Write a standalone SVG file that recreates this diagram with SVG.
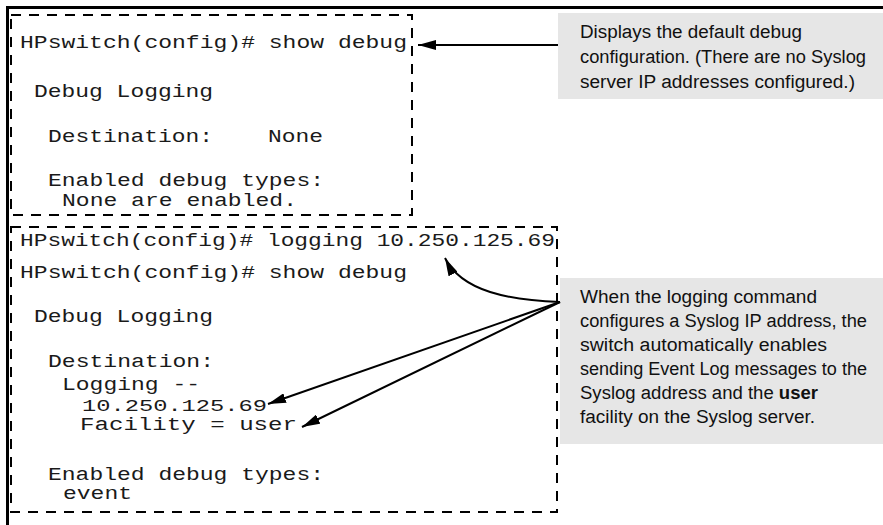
<svg xmlns="http://www.w3.org/2000/svg" width="883" height="525" viewBox="0 0 883 525">
  <style>
    .frame { fill: none; stroke: #000; stroke-width: 3; }
    .dash { fill: none; stroke: #000; stroke-width: 2; stroke-dasharray: 10 8; }
    .term { font-family: "Liberation Mono", "DejaVu Sans Mono", monospace; font-size: 19px; fill: #1a1a1a; }
    .small { font-size: 17px; }
    .note { fill: #e6e6e6; }
    .ntext { font-family: "Liberation Sans", Arial, sans-serif; font-size: 18px; fill: #111; }
    .conn { fill: none; stroke: #000; stroke-width: 2; }
  </style>
  <defs>
    <marker id="head" markerUnits="userSpaceOnUse" markerWidth="18" markerHeight="10" refX="18" refY="5" orient="auto">
      <path d="M0,0 L18,5 L0,10 z" fill="#000"/>
    </marker>
  </defs>

  <rect width="883" height="525" fill="#fff"/>

  <!-- outer page frame: top and left rules -->
  <path class="frame" d="M7.5,525 V7.5 H883"/>

  <!-- first session: default debug configuration -->
  <g id="session-default">
    <rect class="dash" x="11" y="15" width="401" height="200"/>
    <text class="term" x="20" y="48" textLength="387" lengthAdjust="spacingAndGlyphs">HPswitch(config)# show debug</text>
    <text class="term" x="34" y="97" textLength="179" lengthAdjust="spacingAndGlyphs">Debug Logging</text>
    <text class="term" x="48" y="142" textLength="275" lengthAdjust="spacingAndGlyphs" xml:space="preserve">Destination:    None</text>
    <text class="term" x="48" y="186" textLength="276" lengthAdjust="spacingAndGlyphs">Enabled debug types:</text>
    <text class="term" x="62" y="206" textLength="235" lengthAdjust="spacingAndGlyphs">None are enabled.</text>
  </g>

  <!-- second session: after configuring a Syslog server -->
  <g id="session-logging">
    <rect class="dash" x="11" y="227" width="546" height="285"/>
    <text class="term" x="20" y="246" textLength="535" lengthAdjust="spacingAndGlyphs">HPswitch(config)# logging 10.250.125.69</text>
    <text class="term" x="20" y="278" textLength="387" lengthAdjust="spacingAndGlyphs">HPswitch(config)# show debug</text>
    <text class="term" x="34" y="322" textLength="179" lengthAdjust="spacingAndGlyphs">Debug Logging</text>
    <text class="term" x="48" y="367" textLength="166" lengthAdjust="spacingAndGlyphs">Destination:</text>
    <text class="term" x="62" y="390" textLength="138" lengthAdjust="spacingAndGlyphs">Logging --</text>
    <text class="term small" x="82" y="411" textLength="185" lengthAdjust="spacingAndGlyphs">10.250.125.69</text>
    <text class="term" x="80" y="430" textLength="217" lengthAdjust="spacingAndGlyphs">Facility = user</text>
    <text class="term" x="48" y="480" textLength="276" lengthAdjust="spacingAndGlyphs">Enabled debug types:</text>
    <text class="term" x="63" y="499" textLength="69" lengthAdjust="spacingAndGlyphs">event</text>
  </g>

  <!-- callout for the default display -->
  <g id="note-default">
    <rect class="note" x="558" y="13" width="325" height="86"/>
    <text class="ntext" x="580" y="38" textLength="222" lengthAdjust="spacingAndGlyphs">Displays the default debug</text>
    <text class="ntext" x="580" y="63" textLength="286" lengthAdjust="spacingAndGlyphs">configuration. (There are no Syslog</text>
    <text class="ntext" x="580" y="88" textLength="275" lengthAdjust="spacingAndGlyphs">server IP addresses configured.)</text>
  </g>

  <!-- callout for the logging command -->
  <g id="note-logging">
    <rect class="note" x="560" y="278" width="323" height="166"/>
    <text class="ntext" x="580" y="303" textLength="237" lengthAdjust="spacingAndGlyphs">When the logging command</text>
    <text class="ntext" x="580" y="327" textLength="287" lengthAdjust="spacingAndGlyphs">configures a Syslog IP address, the</text>
    <text class="ntext" x="580" y="351" textLength="247" lengthAdjust="spacingAndGlyphs">switch automatically enables</text>
    <text class="ntext" x="580" y="375" textLength="287" lengthAdjust="spacingAndGlyphs">sending Event Log messages to the</text>
    <text class="ntext" x="580" y="399" textLength="238" lengthAdjust="spacingAndGlyphs">Syslog address and the <tspan font-weight="bold">user</tspan></text>
    <text class="ntext" x="580" y="423" textLength="235" lengthAdjust="spacingAndGlyphs">facility on the Syslog server.</text>
  </g>

  <!-- connectors -->
  <g id="connectors">
    <line class="conn" x1="558" y1="45" x2="418" y2="45" marker-end="url(#head)"/>
    <path class="conn" d="M560,302 C510,300 462,292 445,258" marker-end="url(#head)"/>
    <line class="conn" x1="560" y1="302" x2="268" y2="404" marker-end="url(#head)"/>
    <line class="conn" x1="560" y1="302" x2="302" y2="427" marker-end="url(#head)"/>
  </g>
</svg>
